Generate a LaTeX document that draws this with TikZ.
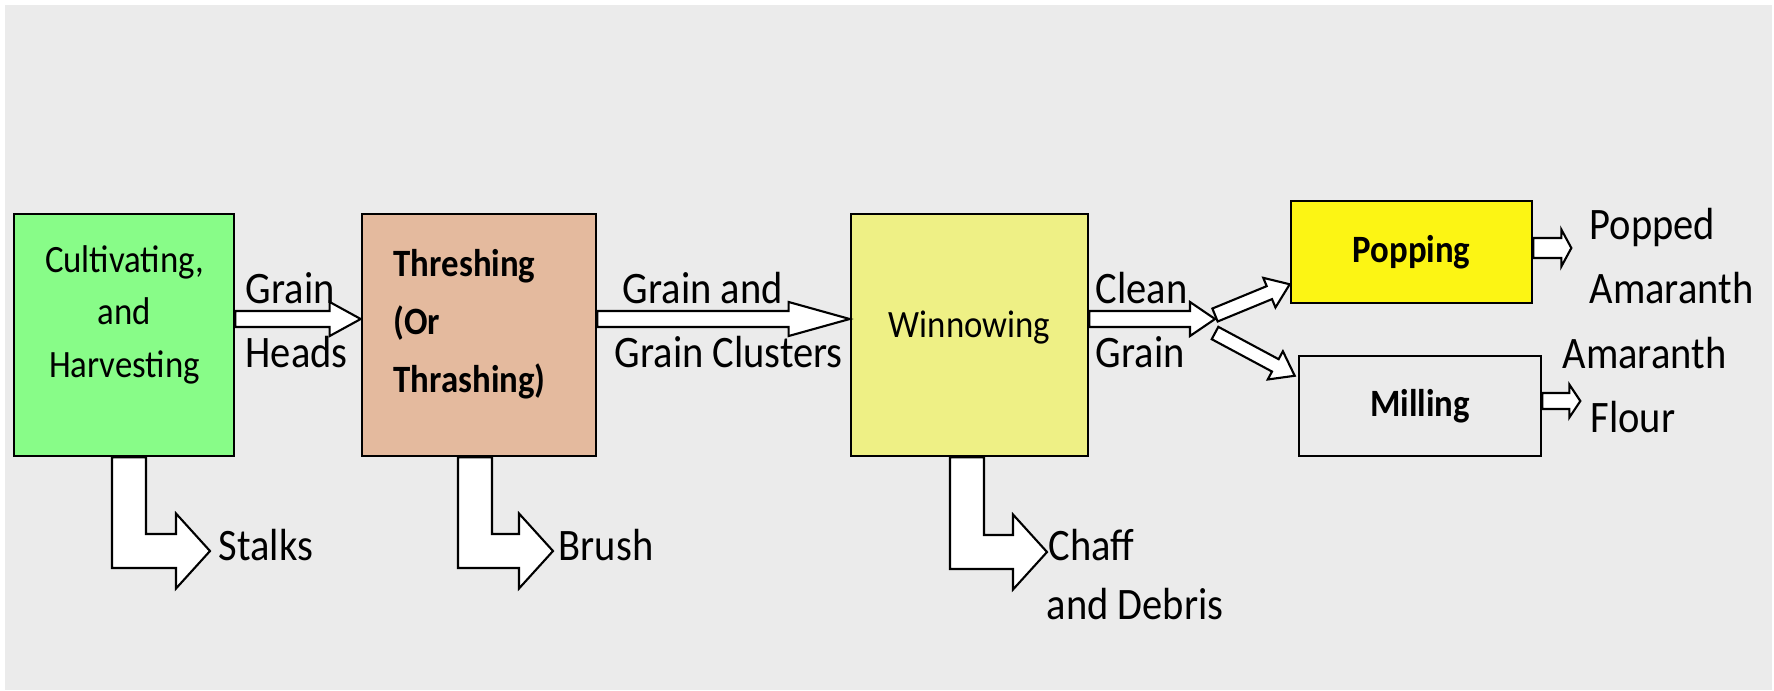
\documentclass[tikz,border=0pt]{standalone}
\usepackage{fontspec}
\setmainfont{Carlito}[FakeStretch=0.9]
\usetikzlibrary{calc}
\definecolor{pagegray}{HTML}{EBEBEB}
\definecolor{cultgreen}{HTML}{88FC88}
\definecolor{threshtan}{HTML}{E4BA9E}
\definecolor{winnowyellow}{HTML}{EEF085}
\definecolor{popyellow}{HTML}{FCF514}
\tikzset{
    arrow shaft/.store in=\arrShaft,
    arrow head/.store in=\arrHead,
    arrow len/.store in=\arrLen,
    arrow shaft=0.08cm,
    arrow head=0.17cm,
    arrow len=0.31cm,
    process/.style={
        draw=black,
        line width=0.7pt,
        inner sep=0pt
    },
    boxtext/.style={
        inner sep=0pt,
        anchor=base,
        align=center,
        font=\fontsize{11pt}{14.9pt}\selectfont
    },
    lbl/.style={
        inner sep=0pt,
        anchor=base west,
        align=left,
        font=\fontsize{12.8pt}{18.2pt}\selectfont
    },
    flatarrow/.style={
        draw=black,
        fill=white,
        line width=0.6pt,
        to path={
            ($(\tikztostart)!\arrShaft!90:(\tikztotarget)$)
            -- ($(\tikztotarget)!\arrLen!(\tikztostart)!\arrShaft!-90:(\tikztostart)$)
            -- ($(\tikztotarget)!\arrLen!(\tikztostart)!\arrHead!-90:(\tikztostart)$)
            -- (\tikztotarget)
            -- ($(\tikztotarget)!\arrLen!(\tikztostart)!\arrHead!90:(\tikztostart)$)
            -- ($(\tikztotarget)!\arrLen!(\tikztostart)!\arrShaft!90:(\tikztostart)$)
            -- ($(\tikztostart)!\arrShaft!-90:(\tikztotarget)$)
            -- cycle
        }
    },
    elbowarrow/.style={
        draw=black,
        fill=white,
        line width=0.6pt,
        arrow shaft=0.17cm,
        arrow head=0.375cm,
        arrow len=0.34cm,
        to path={
            let \p1=(\tikztostart), \p2=(\tikztotarget) in
            ({\x1-\arrShaft},\y1) -- ({\x1-\arrShaft},{\y2-\arrShaft})
            -- ({\x2-\arrLen},{\y2-\arrShaft}) -- ({\x2-\arrLen},{\y2-\arrHead})
            -- (\p2)
            -- ({\x2-\arrLen},{\y2+\arrHead}) -- ({\x2-\arrLen},{\y2+\arrShaft})
            -- ({\x1+\arrShaft},{\y2+\arrShaft}) -- ({\x1+\arrShaft},\y1)
            -- cycle
        }
    }
}
\begin{document}
\begin{tikzpicture}[x=0.01cm, y=-0.01cm]

    \useasboundingbox (0,0) rectangle (1774,690);
    \fill[pagegray] (5,5) rectangle (1772,690);

    % Processes
    \node[process, fill=cultgreen, minimum width=2.2cm, minimum height=2.42cm]
        (cultivate) at (124,335) {};
    \node[process, fill=threshtan, minimum width=2.34cm, minimum height=2.42cm]
        (thresh) at (479,335) {};
    \node[process, fill=winnowyellow, minimum width=2.37cm, minimum height=2.42cm]
        (winnow) at (969.5,335) {};
    \node[process, fill=popyellow, minimum width=2.41cm, minimum height=1.02cm,
          font=\bfseries\fontsize{11pt}{13pt}\selectfont]
        (popping) at (1411.5,252) {Popping};
    \node[process, fill=pagegray, minimum width=2.42cm, minimum height=1cm,
          font=\bfseries\fontsize{11pt}{13pt}\selectfont]
        (milling) at (1420,406) {Milling};

    % base = last line
    \node[boxtext] (cultivateTxt) at (124.5,377) {Cultivating,\\and\\Harvesting};
    \node[boxtext, anchor=base west, align=left,
          font=\bfseries\fontsize{11pt}{16.4pt}\selectfont]
        (threshTxt) at (393,392) {Threshing\\(Or\\Thrashing)};
    \node[boxtext] (winnowTxt) at (969.5,337) {Winnowing};

    % End points
    \coordinate (headsA) at ([yshift=0.16cm]cultivate.east);
    \coordinate (headsB) at ([yshift=0.16cm]thresh.west);
    \coordinate (clusterA) at ([yshift=0.16cm]thresh.east);
    \coordinate (clusterB) at ([yshift=0.16cm]winnow.west);
    \coordinate (cleanA) at ([yshift=0.16cm]winnow.east);
    \coordinate (fork) at (1215,319);
    \coordinate (forkUp) at ([yshift=0.04cm]fork);
    \coordinate (forkDown) at ([yshift=-0.14cm]fork);
    \coordinate (popIn) at ([yshift=0.2cm]popping.south west);
    \coordinate (millIn) at ([xshift=-0.03cm, yshift=-0.21cm]milling.north west);
    \coordinate (popOutA) at ([yshift=0.04cm]popping.east);
    \coordinate (popOutB) at ([xshift=0.38cm]popOutA);
    \coordinate (millOutA) at ([yshift=0.05cm]milling.east);
    \coordinate (millOutB) at ([xshift=0.38cm]millOutA);
    \coordinate (stalksA) at ([xshift=0.05cm]cultivate.south);
    \coordinate (stalksB) at (210,551);
    \coordinate (brushA) at ([xshift=-0.04cm]thresh.south);
    \coordinate (brushB) at (553,551);
    \coordinate (chaffA) at ([xshift=-0.025cm]winnow.south);
    \coordinate (chaffB) at (1047,552);

    % Flows
    \draw[flatarrow] (headsA) to (headsB);
    \draw[flatarrow, arrow len=0.61cm] (clusterA) to (clusterB);
    \draw[flatarrow, arrow len=0.25cm] (cleanA) to (fork);
    \draw[flatarrow, arrow shaft=0.07cm, arrow head=0.16cm, arrow len=0.22cm]
        (forkDown) to (millIn);
    \draw[flatarrow, arrow shaft=0.07cm, arrow head=0.16cm, arrow len=0.22cm]
        (forkUp) to (popIn);
    \draw[flatarrow, arrow shaft=0.1cm, arrow head=0.185cm, arrow len=0.1cm]
        (popOutA) to (popOutB);
    \draw[flatarrow, arrow head=0.165cm, arrow len=0.11cm]
        (millOutA) to (millOutB);

    \draw[elbowarrow] (stalksA) to (stalksB);
    \draw[elbowarrow] (brushA) to (brushB);
    \draw[elbowarrow] (chaffA) to (chaffB);

    % Labels
    \node[lbl] (headsLbl) at (245,367) {Grain\\Heads};
    \node[lbl] (clusterLblA) at (622,303) {Grain and};
    \node[lbl] (clusterLblB) at (614,367) {Grain Clusters};
    \node[lbl] (cleanLbl) at (1095,367) {Clean\\Grain};
    \node[lbl] (poppedLbl) at (1589,303) {Popped\\Amaranth};
    \node[lbl] (flourLblA) at (1562,368) {Amaranth};
    \node[lbl] (flourLblB) at (1590,432) {Flour};
    \node[lbl] (stalksLbl) at (218,560) {Stalks};
    \node[lbl] (brushLbl) at (558,560) {Brush};
    \node[lbl] (chaffLblA) at (1048,560) {Chaff};
    \node[lbl] (chaffLblB) at (1046,619) {and Debris};

\end{tikzpicture}
\end{document}
